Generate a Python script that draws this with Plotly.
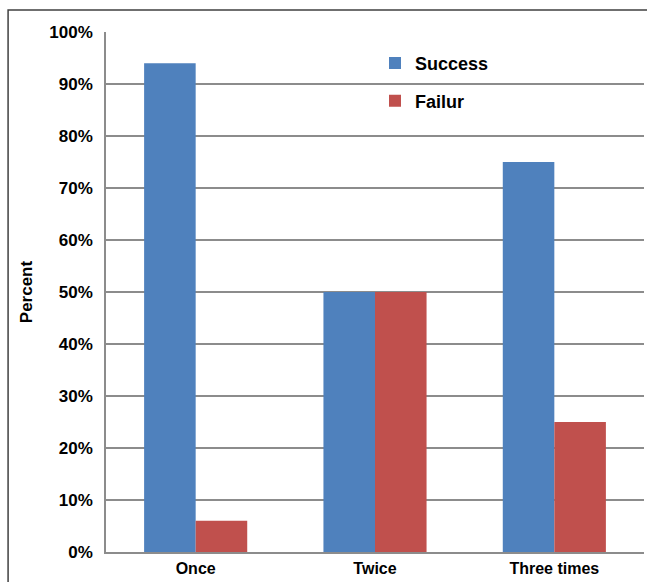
import plotly.graph_objects as go

categories = ["Once", "Twice", "Three times"]
success = [94, 50, 75]
failure = [6, 50, 25]
y_ticks = [0, 10, 20, 30, 40, 50, 60, 70, 80, 90, 100]
y_tick_labels = [f"{v}%" for v in y_ticks]

FONT = "Liberation Sans, Arial, sans-serif"

fig = go.Figure()
fig.add_trace(go.Bar(x=categories, y=success, name="Success",
                     marker=dict(color="#4F81BD", line=dict(width=0)),
                     legend="legend"))
fig.add_trace(go.Bar(x=categories, y=failure, name="Failur",
                     marker=dict(color="#C0504D", line=dict(width=0)),
                     legend="legend2"))

fig.update_layout(
    width=647, height=582,
    margin=dict(l=106, r=3, t=32, b=30),
    paper_bgcolor="white", plot_bgcolor="white",
    barmode="group", bargap=0.425, bargroupgap=0,
    font=dict(family=FONT, size=16, color="black"),
    legend=dict(x=0.5, y=0.94, xanchor="left", yanchor="middle",
                bgcolor="rgba(0,0,0,0)", font=dict(size=18, family=FONT, weight="bold"),
                itemwidth=30),
    legend2=dict(x=0.5, y=0.867, xanchor="left", yanchor="middle",
                 bgcolor="rgba(0,0,0,0)", font=dict(size=18, family=FONT, weight="bold"),
                 itemwidth=30),
    showlegend=True,
    xaxis=dict(showgrid=False, showline=True, linecolor="#8c8c8c", linewidth=1.5,
               ticks="outside", ticklen=1, tickcolor="rgba(0,0,0,0)",
               tickfont=dict(size=16, family=FONT, weight="bold")),
    yaxis=dict(range=[0, 100], tickvals=y_ticks, ticktext=y_tick_labels,
               showgrid=True, gridcolor="#8c8c8c", gridwidth=1.5,
               showline=True, linecolor="#8c8c8c", linewidth=1.5,
               zeroline=False,
               ticks="outside", ticklen=8, tickcolor="rgba(0,0,0,0)",
               tickfont=dict(size=17, family=FONT, weight="bold"),
               title=dict(text="Percent", standoff=12,
                          font=dict(size=17, family=FONT, weight="bold"))),
    shapes=[dict(type="rect", xref="paper", yref="paper",
                 x0=-0.182, x1=1.05, y0=-0.2, y1=1.0423,
                 line=dict(color="#404040", width=1.5), fillcolor="rgba(0,0,0,0)",
                 layer="below")],
)

fig.write_html("out.html")
